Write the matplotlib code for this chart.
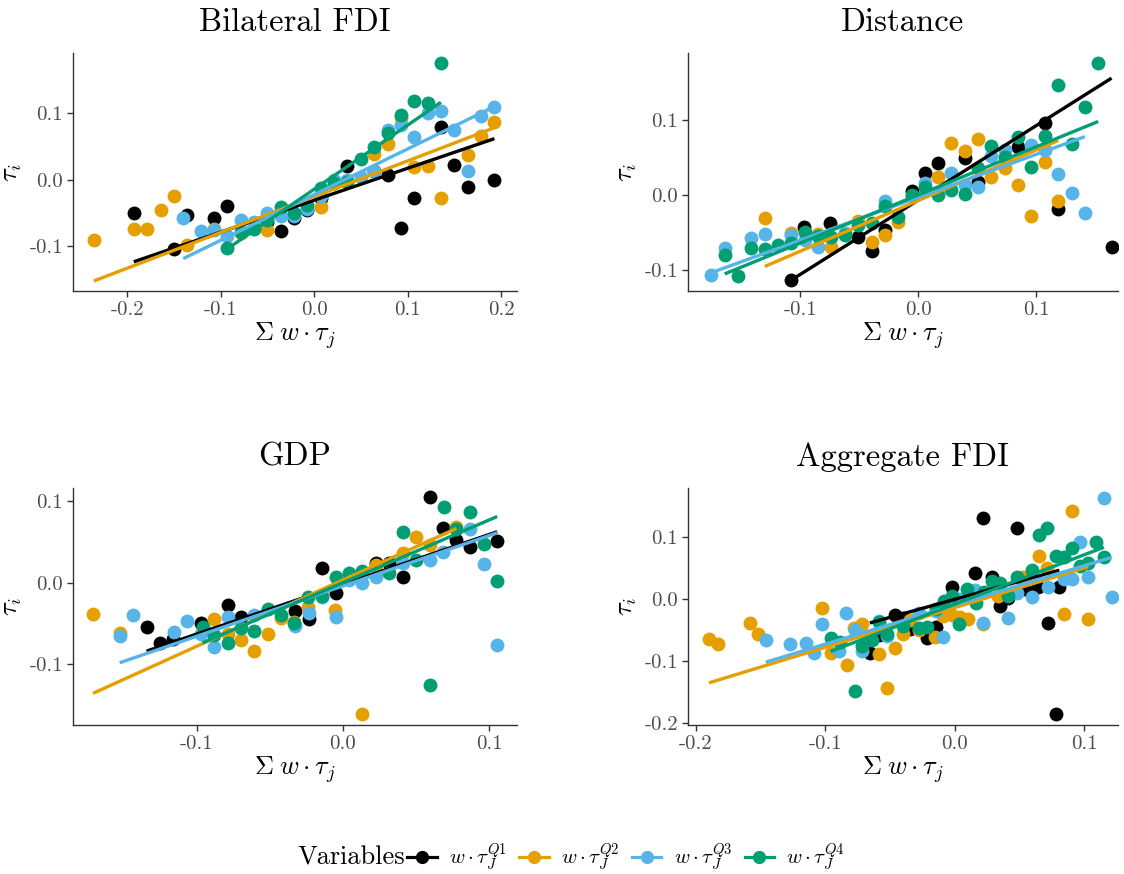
import matplotlib
matplotlib.use("Agg")
import matplotlib.pyplot as plt
from matplotlib.lines import Line2D
import numpy as np

plt.rcParams['font.family'] = ['cmr10', 'DejaVu Serif']
plt.rcParams['mathtext.fontset'] = 'cm'
plt.rcParams['axes.unicode_minus'] = False

colors = ['#000000', '#E69F00', '#56B4E9', '#009E73']
labels = [r'$w\cdot\tau_J^{Q1}$', r'$w\cdot\tau_J^{Q2}$',
          r'$w\cdot\tau_J^{Q3}$', r'$w\cdot\tau_J^{Q4}$']

# ---- Bilateral FDI ----
bfdi_q1_x = [-0.1929, -0.15, -0.1357, -0.1071, -0.0929, -0.05, -0.0357, -0.0214, -0.0071, 0.0071,
             0.0357, 0.0643, 0.0786, 0.0929, 0.1071, 0.1357, 0.15, 0.1643, 0.1929]
bfdi_q1_y = [-0.0501, -0.1053, -0.0536, -0.0576, -0.0401, -0.0642, -0.0767, -0.0576, -0.0451, -0.0276,
             0.0201, 0.0125, 0.0075, -0.0727, -0.0276, 0.0792, 0.0226, -0.0115, 0.0]
bfdi_q2_x = [-0.2357, -0.1929, -0.1786, -0.1643, -0.15, -0.1357, -0.1071, -0.0786, -0.05, 0.0071,
             0.0643, 0.0786, 0.0929, 0.1071, 0.1214, 0.1357, 0.1643, 0.1786, 0.1929]
bfdi_q2_y = [-0.0917, -0.0742, -0.0742, -0.0451, -0.0241, -0.0992, -0.0742, -0.0802, -0.0752, -0.0411,
             0.0391, 0.0541, 0.0927, 0.019, 0.0201, -0.0276, 0.0376, 0.0662, 0.0877]
bfdi_q3_x = [-0.1400, -0.1214, -0.1071, -0.0929, -0.0786, -0.0643, -0.05, -0.0357, -0.0214, -0.0071,
             0.0071, 0.0214, 0.0357, 0.05, 0.0643, 0.0786, 0.0929, 0.1071, 0.1214, 0.1357,
             0.15, 0.1643, 0.1786, 0.1929]
bfdi_q3_y = [-0.0576, -0.0777, -0.0752, -0.0852, -0.0602, -0.0642, -0.0501, -0.0551, -0.0541, -0.0441,
             -0.0251, 0.0, 0.0, 0.004, 0.0125, 0.0752, 0.0827, 0.0642, 0.1003, 0.1043,
             0.0752, 0.0125, 0.0962, 0.1093]
bfdi_q4_x = [-0.0929, -0.0786, -0.0643, -0.05, -0.0357, -0.0214, -0.0071, 0.0071, 0.0214, 0.0357,
             0.05, 0.0643, 0.0786, 0.0929, 0.1071, 0.1214, 0.1357]
bfdi_q4_y = [-0.1028, -0.0792, -0.0742, -0.0602, -0.0411, -0.0501, -0.0376, -0.0125, -0.005, -0.004,
             0.0311, 0.0491, 0.0702, 0.0977, 0.1193, 0.1163, 0.1754]
bfdi_slope = [0.4815, 0.5394, 0.689, 0.967]
bfdi_icpt = [-0.031, -0.0257, -0.0226, -0.0145]

# ---- Distance ----
dist_q1_x = [-0.1073, -0.0969, -0.0743, -0.0508, -0.0395, -0.0282, -0.0056, 0.0056, 0.0169, 0.0395,
             0.0508, 0.0847, 0.1073, 0.1186, 0.1638]
dist_q1_y = [-0.1128, -0.0429, -0.0376, -0.0562, -0.0739, -0.0465, 0.0058, 0.0288, 0.042, 0.0487,
             0.0177, 0.0633, 0.0951, -0.019, -0.0686]
dist_q2_x = [-0.1299, -0.1073, -0.0847, -0.0734, -0.0621, -0.0508, -0.0395, -0.0282, -0.0169, 0.0169,
             0.0282, 0.0395, 0.0508, 0.0621, 0.0734, 0.0847, 0.096, 0.1073, 0.1186]
dist_q2_y = [-0.031, -0.05, -0.0518, -0.0686, -0.05, -0.0341, -0.0619, -0.0531, -0.0354, 0.0243,
             0.0695, 0.0588, 0.0739, 0.0235, 0.0354, 0.0133, -0.0279, 0.0442, -0.0075]
dist_q3_x = [-0.1751, -0.1638, -0.1412, -0.1299, -0.1073, -0.096, -0.0847, -0.0621, -0.0282, -0.0056,
             0.0056, 0.0282, 0.0395, 0.0508, 0.0621, 0.0734, 0.096, 0.1073, 0.1186, 0.1299, 0.1412]
dist_q3_y = [-0.1062, -0.0708, -0.0575, -0.0518, -0.0531, -0.0597, -0.0695, -0.0509, -0.0075, -0.0013,
             0.0164, 0.0288, 0.0133, 0.0102, 0.0518, 0.0597, 0.0664, 0.0597, 0.0279, 0.0031, -0.0235]
dist_q4_x = [-0.1638, -0.1525, -0.1412, -0.1299, -0.1186, -0.1073, -0.096, -0.0847, -0.0734, -0.0621,
             -0.0508, -0.0395, -0.0282, -0.0169, -0.0056, 0.0056, 0.0169, 0.0282, 0.0395, 0.0508,
             0.0621, 0.0734, 0.0847, 0.096, 0.1073, 0.1186, 0.1299, 0.1412, 0.1525]
dist_q4_y = [-0.0796, -0.1075, -0.0708, -0.0721, -0.0664, -0.0633, -0.0487, -0.0544, -0.0562, -0.0531,
             -0.0398, -0.0376, -0.0146, -0.0288, 0.0, 0.0111, 0.0, 0.0066, 0.0013, 0.0354,
             0.065, 0.05, 0.0765, 0.0367, 0.0783, 0.146, 0.0677, 0.1164, 0.1748]
dist_slope = [0.989, 0.673, 0.571, 0.64]
dist_icpt = [-0.0067, -0.0074, -0.0031, 0.0001]

# ---- GDP ----
gdp_q1_x = [-0.1342, -0.1251, -0.116, -0.097, -0.0788, -0.0696, -0.0324, -0.0233, -0.0142, -0.005,
            0.0224, 0.0315, 0.0411, 0.0594, 0.0685, 0.0776, 0.0868, 0.1055]
gdp_q1_y = [-0.0539, -0.0743, -0.0694, -0.0498, -0.0273, -0.0424, -0.0343, -0.0449, 0.0176, -0.0131,
            0.0237, 0.0237, 0.0065, 0.1053, 0.0665, 0.0522, 0.0441, 0.0514]
gdp_q2_x = [-0.1708, -0.1525, -0.0879, -0.0788, -0.0696, -0.0605, -0.0514, -0.0422, -0.0331, -0.024,
            -0.0057, 0.0132, 0.0224, 0.0411, 0.0502, 0.0598, 0.0776]
gdp_q2_y = [-0.0384, -0.062, -0.0449, -0.0629, -0.0702, -0.0833, -0.0629, -0.0437, -0.0478, -0.0294,
            -0.0335, -0.1608, 0.0216, 0.0367, 0.0555, 0.0461, 0.0686]
gdp_q3_x = [-0.1525, -0.1434, -0.1153, -0.1062, -0.097, -0.0879, -0.0788, -0.0605, -0.0324, -0.0233,
            -0.0142, -0.005, 0.0041, 0.0132, 0.0224, 0.0411, 0.0594, 0.0685, 0.0868, 0.0963, 0.1055]
gdp_q3_y = [-0.0653, -0.0396, -0.06, -0.0465, -0.0629, -0.0784, -0.0416, -0.0396, -0.0531, -0.0376,
            -0.018, -0.0416, 0.0033, 0.0, 0.0073, 0.0245, 0.0278, 0.038, 0.0653, 0.0229, -0.0763]
gdp_q4_x = [-0.0959, -0.0879, -0.0788, -0.0696, -0.0605, -0.0514, -0.0422, -0.0331, -0.024, -0.0142,
            -0.005, 0.0041, 0.0132, 0.0315, 0.0411, 0.0502, 0.0594, 0.0689, 0.0776, 0.0868, 0.0963, 0.1055]
gdp_q4_y = [-0.0547, -0.0641, -0.0735, -0.0559, -0.0588, -0.0327, -0.0396, -0.049, -0.0171, -0.0163,
            0.0065, 0.0114, 0.0147, 0.0122, 0.0624, 0.0278, -0.1253, 0.0931, 0.0653, 0.0869, 0.0473, 0.0024]
gdp_slope = [0.61, 0.813, 0.617, 0.768]
gdp_icpt = [-0.0019, 0.0034, -0.0039, 0.0001]

# ---- Aggregate FDI ----
afdi_q1_x = [-0.0657, -0.0585, -0.0464, -0.0399, -0.0343, -0.0219, -0.0147, -0.0026, 0.0155, 0.0219,
             0.0284, 0.0348, 0.0412, 0.0477, 0.0541, 0.0644, 0.0722, 0.0781, 0.0807]
afdi_q1_y = [-0.0872, -0.0588, -0.0267, -0.0305, -0.0481, -0.0626, -0.0455, 0.0198, 0.0412, 0.1299,
             0.0358, -0.0107, 0.0016, 0.1139, 0.016, 0.0198, -0.039, -0.1856, 0.0187]
afdi_q2_x = [-0.19, -0.183, -0.1585, -0.1521, -0.1023, -0.0961, -0.0832, -0.0781, -0.0714, -0.0585,
             -0.0528, -0.0464, -0.0399, -0.0348, -0.0276, -0.0155, -0.009, -0.0026, 0.0039, 0.0103,
             0.0219, 0.0335, 0.0528, 0.0652, 0.0714, 0.0843, 0.0902, 0.1031]
afdi_q2_y = [-0.0642, -0.0722, -0.039, -0.0561, -0.0144, -0.0872, -0.107, -0.0465, -0.0401, -0.0893,
             -0.1428, -0.0786, -0.0572, -0.0337, -0.0497, -0.0615, -0.0283, -0.0267, -0.0294, -0.0321,
             -0.0412, 0.0053, 0.0348, 0.0695, 0.0497, -0.0251, 0.1417, -0.0321]
afdi_q3_x = [-0.1461, -0.1271, -0.1147, -0.109, -0.1023, -0.0894, -0.0838, -0.0773, -0.0714, -0.0585,
             -0.0523, -0.0276, -0.0147, -0.009, 0.0034, 0.0155, 0.0219, 0.0412, 0.0477, 0.0593,
             0.0722, 0.0843, 0.0902, 0.0966, 0.1031, 0.1152, 0.1211]
afdi_q3_y = [-0.0658, -0.0733, -0.0711, -0.0872, -0.0412, -0.084, -0.023, -0.0508, -0.084, -0.0348,
             -0.0604, -0.023, -0.0198, -0.0615, 0.0, 0.0144, -0.039, -0.0305, 0.0091, 0.0037,
             0.0198, 0.0321, 0.0321, 0.0925, 0.0348, 0.1631, 0.0027]
afdi_q4_x = [-0.0961, -0.0889, -0.0773, -0.0714, -0.0644, -0.0585, -0.0528, -0.0399, -0.0276, -0.0214,
             -0.0147, -0.0085, -0.0026, 0.0034, 0.0095, 0.0162, 0.0224, 0.0284, 0.0348, 0.0412,
             0.0477, 0.0593, 0.0652, 0.0714, 0.0781, 0.0843, 0.0902, 0.0966, 0.1031, 0.109, 0.1152]
afdi_q4_y = [-0.0626, -0.0695, -0.1481, -0.0765, -0.0658, -0.0374, -0.0572, -0.0444, -0.0465, -0.0455,
             -0.016, -0.0027, 0.0053, -0.0412, 0.016, -0.007, 0.0107, 0.0294, 0.0251, 0.0053,
             0.0348, 0.0465, 0.1032, 0.115, 0.0695, 0.0679, 0.0818, 0.0535, 0.0572, 0.0925, 0.0679]
afdi_slope = [0.58, 0.639, 0.632, 0.795]
afdi_icpt = [-0.0006, -0.0139, -0.0096, -0.0083]

panels = [
    ("Bilateral FDI", [(bfdi_q1_x, bfdi_q1_y), (bfdi_q2_x, bfdi_q2_y), (bfdi_q3_x, bfdi_q3_y), (bfdi_q4_x, bfdi_q4_y)],
     bfdi_slope, bfdi_icpt, [0.0649, 0.667, 0.395, 0.2723], (-0.258, 0.217), (-0.168, 0.191),
     [-0.2, -0.1, 0.0, 0.1, 0.2], ['-0.2', '-0.1', '0.0', '0.1', '0.2'], [-0.1, 0.0, 0.1], ['-0.1', '0.0', '0.1']),
    ("Distance", [(dist_q1_x, dist_q1_y), (dist_q2_x, dist_q2_y), (dist_q3_x, dist_q3_y), (dist_q4_x, dist_q4_y)],
     dist_slope, dist_icpt, [0.612, 0.667, 0.3826, 0.2723], (-0.195, 0.1692), (-0.1275, 0.1886),
     [-0.1, 0.0, 0.1], ['-0.1', '0.0', '0.1'], [-0.1, 0.0, 0.1], ['-0.1', '0.0', '0.1']),
    ("GDP", [(gdp_q1_x, gdp_q1_y), (gdp_q2_x, gdp_q2_y), (gdp_q3_x, gdp_q3_y), (gdp_q4_x, gdp_q4_y)],
     gdp_slope, gdp_icpt, [0.0649, 0.1705, 0.395, 0.271], (-0.1845, 0.119), (-0.1742, 0.1159),
     [-0.1, 0.0, 0.1], ['-0.1', '0.0', '0.1'], [-0.1, 0.0, 0.1], ['-0.1', '0.0', '0.1']),
    ("Aggregate FDI", [(afdi_q1_x, afdi_q1_y), (afdi_q2_x, afdi_q2_y), (afdi_q3_x, afdi_q3_y), (afdi_q4_x, afdi_q4_y)],
     afdi_slope, afdi_icpt, [0.612, 0.1705, 0.3826, 0.271], (-0.2063, 0.126), (-0.2032, 0.1786),
     [-0.2, -0.1, 0.0, 0.1], ['-0.2', '-0.1', '0.0', '0.1'], [-0.2, -0.1, 0.0, 0.1], ['-0.2', '-0.1', '0.0', '0.1']),
]

fig = plt.figure(figsize=(11.24, 8.74), dpi=100)

for title, series, slopes, icpts, pos, xl, yl, xt, xtl, yt, ytl in panels:
    ax = fig.add_axes(pos)
    for i, (x, y) in enumerate(series):
        ax.scatter(x, y, s=100, color=colors[i], linewidths=0, zorder=2 + i)
    for i, (x, y) in enumerate(series):
        xs = np.array([min(x), max(x)])
        ax.plot(xs, slopes[i] * xs + icpts[i], color=colors[i], lw=2.4, zorder=6 + i,
                solid_capstyle='butt')
    ax.set_xlim(*xl)
    ax.set_ylim(*yl)
    ax.set_xticks(xt)
    ax.set_xticklabels(xtl)
    ax.set_yticks(yt)
    ax.set_yticklabels(ytl)
    for s in ['top', 'right']:
        ax.spines[s].set_visible(False)
    for s in ['left', 'bottom']:
        ax.spines[s].set_color('#333333')
        ax.spines[s].set_linewidth(1.0)
    ax.tick_params(colors='#333333', labelcolor='#4D4D4D', labelsize=15, length=4, width=1.0, pad=3)
    ax.set_title(title, fontsize=23.5, pad=16)
    ax.set_xlabel(r'$\Sigma\; w\cdot\tau_j$', fontsize=19, labelpad=1)
    ax.set_ylabel(r'$\tau_i$', fontsize=19, labelpad=4)

handles = [Line2D([0], [0], color=c, lw=2.3, marker='o', markersize=8.5) for c in colors]
fig.text(0.265, 0.019, 'Variables', fontsize=19, va='center', ha='left')
fig.legend(handles, labels, ncol=4, loc='center left', bbox_to_anchor=(0.355, 0.019), frameon=False,
           fontsize=15, handlelength=1.4, handletextpad=0.6, columnspacing=0.6, borderaxespad=0)

fig.savefig('out.png', dpi=100)
